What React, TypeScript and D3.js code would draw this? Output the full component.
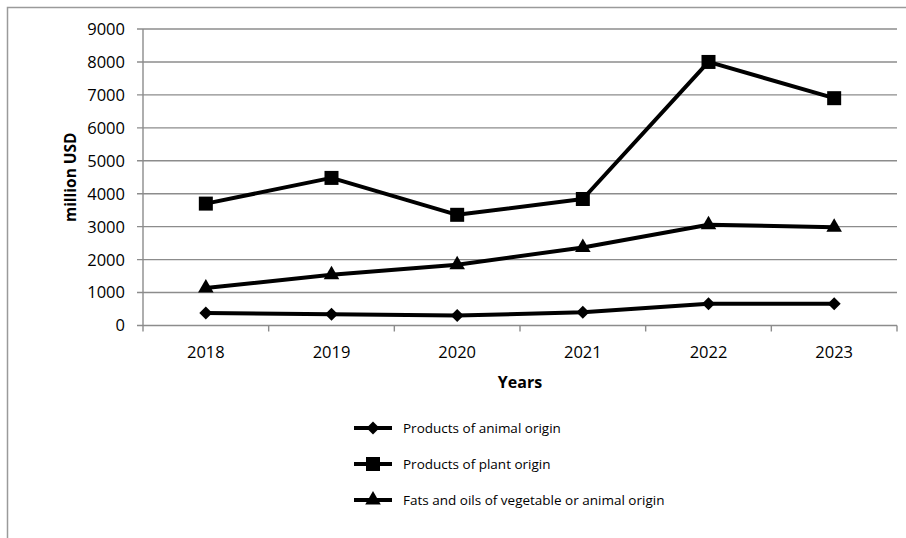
import React from "react";
import * as d3 from "d3";

const years = ["2018", "2019", "2020", "2021", "2022", "2023"];
const animal = [380, 345, 300, 400, 660, 660];
const plant = [3700, 4480, 3360, 3840, 8000, 6900];
const fats = [1140, 1540, 1845, 2370, 3060, 2980];
const yTicks = [0, 1000, 2000, 3000, 4000, 5000, 6000, 7000, 8000, 9000];
const seriesNames = [
  "Products of animal origin",
  "Products of plant origin",
  "Fats and oils of vegetable or animal origin",
];

const W = 906;
const H = 538;
const left = 143;
const right = 897;
const top = 29;
const bottom = 325.5;

const x = d3.scaleBand<string>().domain(years).range([left, right]);
const y = d3.scaleLinear().domain([0, 9000]).range([bottom, top]);

const font = "'Open Sans', 'Liberation Sans', sans-serif";

function Marker({ kind, cx, cy }: { kind: string; cx: number; cy: number }) {
  if (kind === "diamond") {
    const r = 6.5;
    const d = `M${cx},${cy - r}L${cx + r},${cy}L${cx},${cy + r}L${cx - r},${cy}Z`;
    return <path d={d} fill="#000" />;
  }
  if (kind === "square") {
    return <rect x={cx - 7} y={cy - 7} width={14} height={14} fill="#000" />;
  }
  const s = d3.symbol(d3.symbolTriangle, 105)();
  return <path d={s || ""} transform={`translate(${cx},${cy})`} fill="#000" />;
}

export default function App() {
  const series = [
    { name: seriesNames[0], values: animal, kind: "diamond" },
    { name: seriesNames[1], values: plant, kind: "square" },
    { name: seriesNames[2], values: fats, kind: "triangle" },
  ];
  const line = d3
    .line<number>()
    .x((_, i) => (x(years[i]) as number) + x.bandwidth() / 2)
    .y((v) => y(v));
  const bounds = [left, ...years.map((yr) => (x(yr) as number) + x.bandwidth())];
  const legendY = [428, 464, 500];

  return (
    <svg
      width={W}
      height={H}
      style={{ position: "absolute", left: 0, top: 0, background: "#fff" }}
      fontFamily={font}
    >
      <rect x={7.5} y={7.5} width={W + 10} height={H + 10} fill="#fff" stroke="#9a9a9a" strokeWidth={1.5} />
      {yTicks.map((t) => (
        <g key={t}>
          <line x1={left - 6} x2={right} y1={y(t)} y2={y(t)} stroke="#8c8c8c" strokeWidth={1.4} />
          <text x={125} y={y(t)} dy="0.36em" textAnchor="end" fontSize={16.5} fill="#000">
            {t}
          </text>
        </g>
      ))}
      <line x1={left} x2={left} y1={top} y2={bottom} stroke="#8c8c8c" strokeWidth={1.4} />
      {bounds.map((b, i) => (
        <line key={i} x1={b} x2={b} y1={bottom} y2={bottom + 6} stroke="#8c8c8c" strokeWidth={1.4} />
      ))}
      {years.map((yr) => (
        <text
          key={yr}
          x={(x(yr) as number) + x.bandwidth() / 2}
          y={352}
          dy="0.36em"
          textAnchor="middle"
          fontSize={16.5}
          fill="#000"
        >
          {yr}
        </text>
      ))}
      <text x={(left + right) / 2} y={382} dy="0.36em" textAnchor="middle" fontSize={16} fontWeight="bold">
        Years
      </text>
      <text
        transform={`translate(70,${(top + bottom) / 2}) rotate(-90)`}
        dy="0.36em"
        textAnchor="middle"
        fontSize={15.5}
        fontWeight="bold"
      >
        million USD
      </text>
      {series.map((s) => (
        <g key={s.name}>
          <path d={line(s.values) || ""} fill="none" stroke="#000" strokeWidth={4} strokeLinejoin="round" />
          {s.values.map((v, i) => (
            <Marker key={i} kind={s.kind} cx={(x(years[i]) as number) + x.bandwidth() / 2} cy={y(v)} />
          ))}
        </g>
      ))}
      {series.map((s, i) => (
        <g key={"lg" + i}>
          <line x1={354} x2={392} y1={legendY[i]} y2={legendY[i]} stroke="#000" strokeWidth={4} />
          <Marker kind={s.kind} cx={373} cy={legendY[i]} />
          <text x={403} y={legendY[i]} dy="0.36em" fontSize={13.5} fill="#000">
            {s.name}
          </text>
        </g>
      ))}
    </svg>
  );
}
